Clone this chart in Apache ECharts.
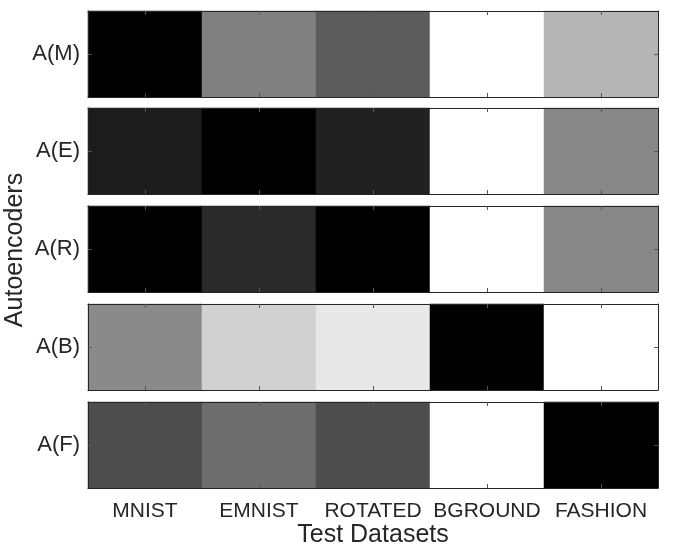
<!DOCTYPE html>
<html>
<head>
<meta charset="utf-8">
<script src="https://cdn.jsdelivr.net/npm/echarts@6/dist/echarts.min.js"></script>
<style>
  html, body { margin: 0; padding: 0; background: #fff; }
  #chart { width: 673px; height: 547px; }
</style>
</head>
<body>
<div id="chart"></div>
<script>
// 测试数据集与自编码器
const datasets = ['MNIST', 'EMNIST', 'ROTATED', 'BGROUND', 'FASHION'];
const autoencoders = ['A(M)', 'A(E)', 'A(R)', 'A(B)', 'A(F)'];

// 每行灰度值（0 = 黑，1 = 白），按行归一化
const rowM = [0.00, 0.50, 0.36, 1.00, 0.71];
const rowE = [0.11, 0.00, 0.13, 1.00, 0.53];
const rowR = [0.00, 0.165, 0.00, 1.00, 0.53];
const rowB = [0.54, 0.82, 0.91, 0.00, 1.00];
const rowF = [0.30, 0.43, 0.30, 1.00, 0.00];

const rows = [rowM, rowE, rowR, rowB, rowF];
const panelTops = [11, 108, 206, 304, 402];

const axisColor = '#262626';
const textColor = '#262626';
const font = 'Liberation Sans, Arial, sans-serif';

document.addEventListener('DOMContentLoaded', function() {
    const myChart = echarts.init(document.getElementById('chart'));

    const grid = [], xAxis = [], yAxis = [], series = [];

    rows.forEach(function(row, i) {
        grid.push({ left: 88, width: 570, top: panelTops[i], height: 86, outerBoundsMode: 'none', containLabel: false });
        const isLast = i === rows.length - 1;

        // 下方 x 轴
        xAxis.push({
            type: 'category',
            gridIndex: i,
            position: 'bottom',
            data: datasets,
            z: 10,
            axisLine: { lineStyle: { color: axisColor, width: 1 } },
            axisTick: { show: true, inside: true, alignWithLabel: true, length: 4, lineStyle: { color: '#555' } },
            axisLabel: {
                show: isLast, interval: 0, hideOverlap: false, margin: 13, color: textColor,
                fontFamily: font, fontSize: 21
            },
            name: isLast ? 'Test Datasets' : '',
            nameLocation: 'middle',
            nameGap: 33,
            nameTextStyle: { color: textColor, fontFamily: font, fontSize: 25 },
            splitLine: { show: false }
        });
        // 上方 x 轴（只画刻度）
        xAxis.push({
            type: 'category',
            gridIndex: i,
            position: 'top',
            data: datasets,
            z: 10,
            axisLine: { lineStyle: { color: axisColor, width: 1 } },
            axisTick: { show: true, inside: true, alignWithLabel: true, length: 4, lineStyle: { color: '#555' } },
            axisLabel: { show: false },
            splitLine: { show: false }
        });
        // 左侧 y 轴
        yAxis.push({
            type: 'category',
            gridIndex: i,
            position: 'left',
            data: [autoencoders[i]],
            z: 10,
            axisLine: { lineStyle: { color: axisColor, width: 1 } },
            axisTick: { show: true, inside: true, alignWithLabel: true, length: 4, lineStyle: { color: '#555' } },
            axisLabel: { margin: 8, color: textColor, fontFamily: font, fontSize: 22 },
            splitLine: { show: false }
        });
        // 右侧 y 轴
        yAxis.push({
            type: 'category',
            gridIndex: i,
            position: 'right',
            data: [autoencoders[i]],
            z: 10,
            axisLine: { lineStyle: { color: axisColor, width: 1 } },
            axisTick: { show: true, inside: true, alignWithLabel: true, length: 4, lineStyle: { color: '#555' } },
            axisLabel: { show: false },
            splitLine: { show: false }
        });

        series.push({
            type: 'heatmap',
            xAxisIndex: i * 2,
            yAxisIndex: i * 2,
            data: row.map(function(v, j) { return [j, 0, v]; }),
            itemStyle: { borderWidth: 0 },
            emphasis: { disabled: true }
        });
    });

    const option = {
        animation: false,
        backgroundColor: '#ffffff',
        grid: grid,
        xAxis: xAxis,
        yAxis: yAxis,
        visualMap: {
            show: false,
            min: 0,
            max: 1,
            seriesIndex: series.map(function(s, i) { return i; }),
            inRange: { color: ['#000000', '#ffffff'] }
        },
        graphic: [{
            type: 'text',
            rotation: Math.PI / 2,
            x: 15,
            y: 250,
            style: {
                text: 'Autoencoders',
                fill: textColor,
                font: '25px Liberation Sans, Arial, sans-serif',
                textAlign: 'center',
                textVerticalAlign: 'middle'
            }
        }],
        series: series
    };
    myChart.setOption(option);
});
</script>
</body>
</html>
